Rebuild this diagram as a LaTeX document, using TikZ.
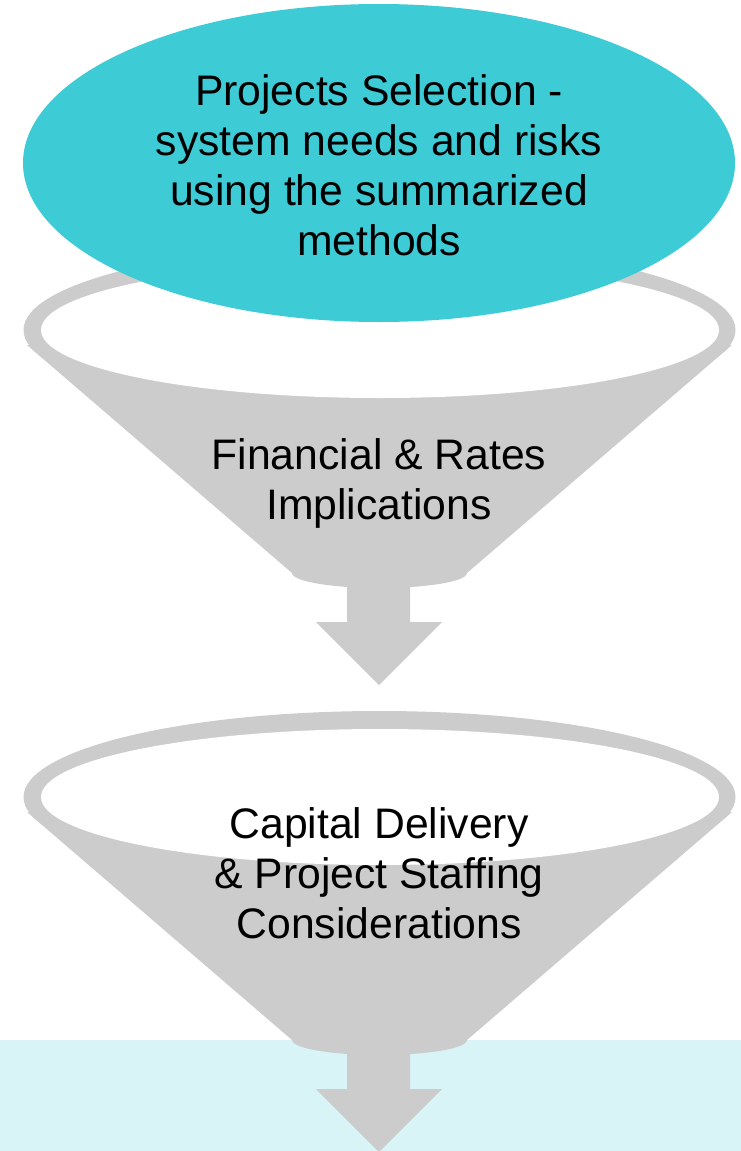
\documentclass[tikz,border=0pt]{standalone}
\usepackage{fontspec}
\setmainfont{Liberation Sans}
\usetikzlibrary{positioning}
\definecolor{selteal}{RGB}{61,203,214}
\definecolor{paleteal}{RGB}{216,244,247}
\definecolor{funnelgray}{RGB}{204,204,204}

\tikzset{
  funnel/.style={fill=funnelgray},
  stagetext/.style={align=center,inner sep=0pt,font=\fontsize{42.7}{50}\selectfont}
}

\begin{document}
\begin{tikzpicture}[x=1pt,y=-1pt]
\useasboundingbox (0,0) rectangle (741,1151);

% Pale band under the last arrow
\fill[paleteal] (0,1040) rectangle (741,1151);

% Two funnels, each with its arrow below
\foreach \dy in {0,467} {
  \begin{scope}[shift={(0,\dy)}]
    \fill[funnel] (379.5,330) ellipse [x radius=356, y radius=86];
    \fill[funnel] (27,345) -- (292,573) -- (467,573) -- (732,345) -- cycle;
    \fill[funnel] (379.5,573) ellipse [x radius=87.5, y radius=15];
    \fill[white] (380,330) ellipse [x radius=339, y radius=68];
    \fill[funnel] (347,580) -- (410,580) -- (410,622) -- (442,622)
      -- (379,685) -- (316,622) -- (347,622) -- cycle;
  \end{scope}
}

% Selection ellipse on top
\fill[selteal] (379,163) ellipse [x radius=356, y radius=159];

% Texts
\node[stagetext] (selection) at (379,165)
  {Projects Selection -\\system needs and risks\\using the summarized\\methods};
\node[stagetext] (finance) at (379,483)
  {Financial \& Rates\\Implications};
\node[stagetext] (capital) at (379,873)
  {Capital Delivery\\\& Project Staffing\\Considerations};

\end{tikzpicture}
\end{document}
